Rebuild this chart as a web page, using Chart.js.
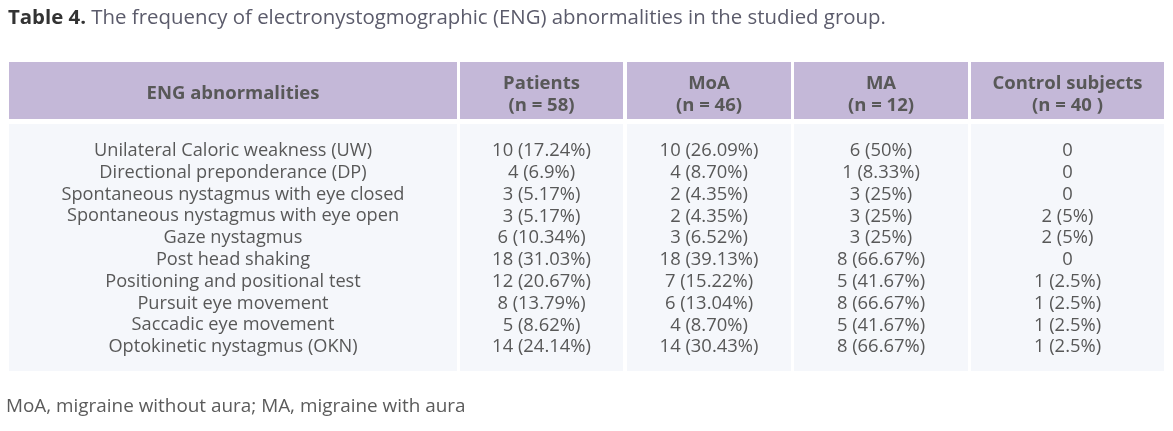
<!DOCTYPE html>
<html>
<head>
<meta charset="utf-8">
<script src="https://cdn.jsdelivr.net/npm/chart.js@4/dist/chart.umd.min.js"></script>
<style>
  html, body { margin: 0; padding: 0; background: #ffffff; width: 1173px; height: 431px; overflow: hidden; }
  #wrap { position: relative; width: 1173px; height: 431px; }
  canvas { position: absolute; left: 0; top: 0; }
  #title { position: absolute; left: 8px; top: 2px; font-family: "Open Sans", sans-serif; font-size: 20.4px; color: #5b5b6b; white-space: nowrap; z-index: 2; }
  #title b { color: #333333; font-weight: 700; }
  #note { position: absolute; left: 6px; top: 392px; font-family: "Open Sans", sans-serif; font-size: 18.9px; color: #5b5b5b; white-space: nowrap; z-index: 2; }
</style>
</head>
<body>
<div id="wrap">
  <canvas id="c" width="1173" height="431"></canvas>
  <div id="title"><b>Table 4.</b> The frequency of electronystogmographic (ENG) abnormalities in the studied group.</div>
  <div id="note">MoA, migraine without aura; MA, migraine with aura</div>
</div>
<script>
// ---- data ----
const abnormalities = [
  "Unilateral Caloric weakness (UW)",
  "Directional preponderance (DP)",
  "Spontaneous nystagmus with eye closed",
  "Spontaneous nystagmus with eye open",
  "Gaze nystagmus",
  "Post head shaking",
  "Positioning and positional test",
  "Pursuit eye movement",
  "Saccadic eye movement",
  "Optokinetic nystagmus (OKN)"
];
const firstHeader = "ENG abnormalities";
const groupNames = ["Patients", "MoA", "MA", "Control subjects"];
const groupSizes = ["(n = 58)", "(n = 46)", "(n = 12)", "(n = 40 )"];

const patientsN   = [10, 4, 3, 3, 6, 18, 12, 8, 5, 14];
const patientsPct = ["17.24", "6.9", "5.17", "5.17", "10.34", "31.03", "20.67", "13.79", "8.62", "24.14"];
const moaN   = [10, 4, 2, 2, 3, 18, 7, 6, 4, 14];
const moaPct = ["26.09", "8.70", "4.35", "4.35", "6.52", "39.13", "15.22", "13.04", "8.70", "30.43"];
const maN   = [6, 1, 3, 3, 3, 8, 5, 8, 5, 8];
const maPct = ["50", "8.33", "25", "25", "25", "66.67", "41.67", "66.67", "41.67", "66.67"];
const controlN   = [0, 0, 0, 2, 2, 0, 1, 1, 1, 1];
const controlPct = [null, null, null, "5", "5", null, "2.5", "2.5", "2.5", "2.5"];

// ---- layout (styles only) ----
const colEdges = [[9, 457], [460, 623], [627, 791], [794, 968], [971, 1164]];
const headerTop = 62, headerBottom = 119, bodyTop = 124, bodyBottom = 371;
const headerBg = "#c4b8d8", bodyBg = "#f5f7fb", textColor = "#585858";
const FONT = '"Open Sans", sans-serif';

function cellText(n, pct) { return pct === null ? String(n) : `${n} (${pct}%)`; }
const seriesN = [patientsN, moaN, maN, controlN];
const seriesPct = [patientsPct, moaPct, maPct, controlPct];

const datasets = groupNames.map((g, gi) => ({
  label: g,
  data: abnormalities.map((a, ri) => ({ x: (colEdges[gi + 1][0] + colEdges[gi + 1][1]) / 2, y: a, n: seriesN[gi][ri], pct: seriesPct[gi][ri] })),
  pointRadius: 0,
  showLine: false
}));

const tablePlugin = {
  id: 'tablePlugin',
  beforeDraw(chart) {
    const ctx = chart.ctx;
    ctx.save();
    colEdges.forEach(([l, r]) => {
      ctx.fillStyle = headerBg;
      ctx.fillRect(l, headerTop, r - l, headerBottom - headerTop);
      ctx.fillStyle = bodyBg;
      ctx.fillRect(l, bodyTop, r - l, bodyBottom - bodyTop);
    });
    // headers
    ctx.fillStyle = textColor;
    ctx.font = `700 18.5px ${FONT}`;
    ctx.textAlign = 'center';
    ctx.textBaseline = 'middle';
    const hMid = (headerTop + headerBottom) / 2;
    ctx.fillText(firstHeader, (colEdges[0][0] + colEdges[0][1]) / 2, hMid + 3);
    groupNames.forEach((g, gi) => {
      const cx = (colEdges[gi + 1][0] + colEdges[gi + 1][1]) / 2;
      ctx.fillText(g, cx, hMid - 7);
      ctx.fillText(groupSizes[gi], cx, hMid + 15);
    });
    ctx.restore();
  },
  afterDatasetsDraw(chart) {
    const ctx = chart.ctx;
    const yScale = chart.scales.y;
    ctx.save();
    ctx.fillStyle = textColor;
    ctx.textAlign = 'center';
    ctx.textBaseline = 'middle';
    // row labels via the category scale
    ctx.font = `400 18.2px ${FONT}`;
    const cx0 = (colEdges[0][0] + colEdges[0][1]) / 2;
    yScale.getLabels().forEach((lab, i) => {
      ctx.fillText(lab, cx0, yScale.getPixelForValue(i));
    });
    ctx.font = `400 18.4px ${FONT}`;
    chart.data.datasets.forEach((ds, di) => {
      const meta = chart.getDatasetMeta(di);
      meta.data.forEach((el, i) => {
        const d = ds.data[i];
        ctx.fillText(cellText(d.n, d.pct), el.x, el.y);
      });
    });
    ctx.restore();
  }
};

new Chart(document.getElementById('c'), {
  type: 'scatter',
  data: { datasets },
  options: {
    responsive: false,
    animation: false,
    devicePixelRatio: 1,
    layout: { padding: { left: 457, right: 9, top: 140, bottom: 73 } },
    plugins: { legend: { display: false }, tooltip: { enabled: false }, title: { display: false } },
    scales: {
      x: { type: 'linear', display: false, min: 457, max: 1164 },
      y: { type: 'category', labels: abnormalities, offset: true, display: false }
    }
  },
  plugins: [tablePlugin]
});
</script>
</body>
</html>
